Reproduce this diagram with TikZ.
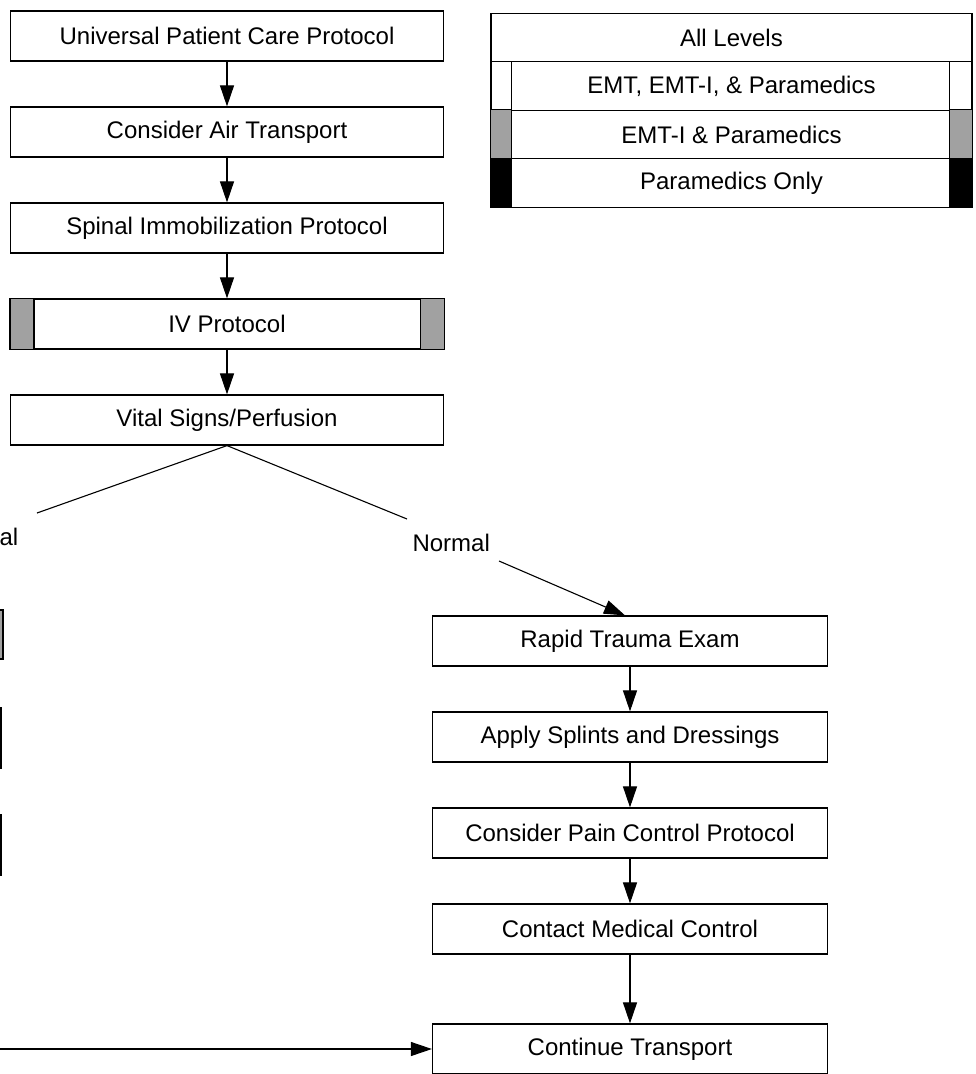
\documentclass[tikz,border=0pt]{standalone}
\usepackage{fontspec}
\setmainfont{Liberation Sans}
\usetikzlibrary{arrows.meta,positioning}

\tikzset{
  proto/.style={draw, line width=1.2pt, minimum width=433pt, minimum height=50pt, inner sep=0pt},
  sub/.style={proto, minimum width=395pt},
  lvl/.style={draw, line width=1.2pt, minimum width=481pt, minimum height=48.5pt, inner sep=0pt},
  stripe/.style={draw, line width=1.2pt, fill=black!37},
  solidbar/.style={draw, line width=1.2pt, fill=black}
}

\begin{document}
\begin{tikzpicture}[->,>={Triangle[width=14pt,length=21pt]},x=1pt,y=-1pt,
            line width=1.1pt,node distance=96pt,
            font=\fontsize{24}{28}\selectfont]
            \useasboundingbox (0,0) rectangle (976,1074);
            \clip (0,0) rectangle (976,1074);

            % main column
            \node[proto] (upc) at (227,36) {Universal Patient Care Protocol};
            \node[proto] (cat) [below of=upc] {Consider Air Transport};
            \node[proto] (sip) [below of=cat] {Spinal Immobilization Protocol};
            \node[proto] (ivp) [below of=sip] {IV Protocol};
            \node[proto] (vsp) [below of=ivp] {Vital Signs/Perfusion};
            \draw[stripe] (ivp.north west) rectangle ([xshift=24pt]ivp.south west);
            \draw[stripe] (ivp.north east) rectangle ([xshift=-24pt]ivp.south east);

            % levels
            \node[lvl] (all) at (731.5,37.5) {All Levels};
            \node[lvl] (emt) [below of=all, node distance=48.5pt] {EMT, EMT-I, \& Paramedics};
            \node[lvl] (emti) [below of=emt, node distance=48.5pt] {EMT-I \& Paramedics};
            \node[lvl] (para) [below of=emti, node distance=48.5pt] {Paramedics Only};
            \draw[line width=1.2pt] (emt.north west) rectangle ([xshift=21pt]emt.south west);
            \draw[line width=1.2pt] (emt.north east) rectangle ([xshift=-23pt]emt.south east);
            \draw[stripe] (emti.north west) rectangle ([xshift=21pt]emti.south west);
            \draw[stripe] (emti.north east) rectangle ([xshift=-23pt]emti.south east);
            \draw[solidbar] (para.north west) rectangle ([xshift=21pt]para.south west);
            \draw[solidbar] (para.north east) rectangle ([xshift=-23pt]para.south east);

            % branches
            \coordinate (abn) at (37,513);
            \coordinate (nrm) at (407,519);
            \coordinate (nst) at (499,561);
            \node[anchor=base west, inner sep=0pt] (abl) at (-1,545) {al};
            \node[anchor=base west, inner sep=0pt] (nml) at (412,551) {Normal};

            % right column
            \node[sub] (rte) at (630,641) {Rapid Trauma Exam};
            \node[sub] (asd) [below of=rte] {Apply Splints and Dressings};
            \node[sub] (cpc) [below of=asd] {Consider Pain Control Protocol};
            \node[sub] (cmc) [below of=cpc] {Contact Medical Control};
            \node[sub] (ctr) [below of=cmc, node distance=120pt] {Continue Transport};

            % cut-off boxes at the left edge
            \draw[stripe] (-30,610) rectangle (3,659);
            \draw[solidbar] (-30,708) rectangle (1.5,768);
            \draw[line width=1.2pt] (-30,815) rectangle (1,875);
            \coordinate (ctin) at (-5,1049);

            \draw (upc) -- (cat);
            \draw (cat) -- (sip);
            \draw (sip) -- (ivp);
            \draw (ivp) -- (vsp);
            \draw[-] (vsp.south) -- (abn);
            \draw[-] (vsp.south) -- (nrm);
            \draw (nst) -- ([xshift=-5pt]rte.north);
            \draw (rte) -- (asd);
            \draw (asd) -- (cpc);
            \draw (cpc) -- (cmc);
            \draw (cmc) -- (ctr);
            \draw (ctin) -- (ctr.west);
        \end{tikzpicture}
\end{document}
